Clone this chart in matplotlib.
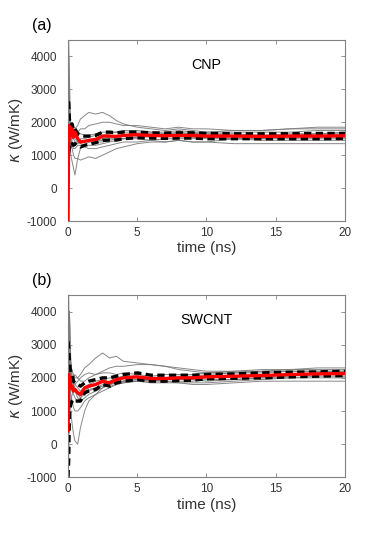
import matplotlib
matplotlib.use("Agg")
import matplotlib.pyplot as plt

plt.rcParams['font.family'] = ['Liberation Sans', 'DejaVu Sans']
plt.rcParams['mathtext.fontset'] = 'dejavusans'
plt.rcParams['axes.unicode_minus'] = False

# time grid (ns)
t = [0, 0.05, 0.1, 0.15, 0.2, 0.3, 0.4, 0.5, 0.7, 0.9, 1.2, 1.5, 2.0, 2.5, 3.0, 3.5, 4.0,
     5, 6, 7, 8, 9, 10, 12, 14, 16, 18, 20]

# ---------- panel (a) CNP ----------
cnp_runs = [
    [3000, 4500, 3500, 2500, 1800, 1500, 1600, 1800, 1900, 2100, 2200, 2300, 2250, 2300, 2200, 2050, 1950, 1850, 1800, 1750, 1800, 1750, 1700, 1750, 1750, 1800, 1850, 1850],
    [1000, 2500, 3000, 2000, 1600, 1500, 1700, 1600, 1700, 1800, 1800, 1900, 1950, 2000, 2000, 1950, 1900, 1900, 1850, 1800, 1850, 1800, 1800, 1750, 1750, 1800, 1800, 1800],
    [2000, 3000, 1500, 1000, 1300, 1200, 1000, 900, 900, 850, 900, 950, 900, 1000, 1100, 1200, 1250, 1350, 1400, 1400, 1450, 1400, 1400, 1500, 1500, 1550, 1550, 1550],
    [-1000, 4000, 2000, 1500, 1000, 800, 600, 400, 900, 1200, 1300, 1400, 1400, 1400, 1450, 1500, 1500, 1500, 1450, 1400, 1450, 1400, 1400, 1350, 1350, 1350, 1350, 1350],
    [4500, 3000, 2000, 1200, 1400, 1500, 1600, 1500, 1400, 1500, 1500, 1550, 1600, 1600, 1650, 1700, 1750, 1750, 1700, 1700, 1750, 1700, 1650, 1650, 1600, 1650, 1650, 1700],
    [0, -1000, 1500, 2000, 1700, 1400, 1300, 1300, 1350, 1400, 1450, 1400, 1450, 1500, 1550, 1600, 1600, 1650, 1650, 1600, 1600, 1550, 1500, 1500, 1450, 1450, 1450, 1450],
    [2500, 1000, 2500, 1800, 1900, 1700, 1500, 1400, 1400, 1350, 1300, 1300, 1300, 1350, 1400, 1450, 1500, 1550, 1600, 1650, 1700, 1650, 1650, 1600, 1600, 1600, 1600, 1600],
    [1500, 3500, 1000, 1500, 1800, 1700, 1500, 1600, 1500, 1450, 1400, 1450, 1450, 1450, 1500, 1500, 1500, 1550, 1550, 1600, 1550, 1550, 1550, 1500, 1500, 1500, 1500, 1500],
    [-500, 2000, 2500, 1800, 1500, 1300, 1200, 1200, 1300, 1300, 1250, 1200, 1200, 1250, 1300, 1350, 1400, 1400, 1450, 1500, 1500, 1500, 1550, 1600, 1600, 1600, 1650, 1650],
    [1000, 1500, 2000, 1600, 1700, 1800, 1700, 1700, 1700, 1650, 1600, 1600, 1650, 1700, 1700, 1700, 1700, 1700, 1700, 1650, 1650, 1650, 1700, 1700, 1700, 1700, 1750, 1750],
]
cnp_mean = [-1000, 1900, 1500, 1850, 1600, 1800, 1550, 1700, 1500, 1400, 1420, 1450, 1480, 1580, 1580, 1570, 1600, 1620, 1600, 1590, 1600, 1600, 1580, 1580, 1570, 1580, 1580, 1590]
cnp_upper = [2600, 2600, 2100, 2000, 1900, 1950, 1750, 1800, 1650, 1600, 1580, 1580, 1600, 1700, 1700, 1680, 1700, 1700, 1680, 1670, 1680, 1680, 1660, 1650, 1650, 1650, 1660, 1660]
cnp_lower = [1100, 1100, 1200, 1300, 1250, 1350, 1300, 1350, 1300, 1250, 1300, 1330, 1380, 1450, 1460, 1460, 1500, 1530, 1520, 1510, 1520, 1520, 1500, 1500, 1500, 1500, 1500, 1510]

# ---------- panel (b) SWCNT ----------
swcnt_runs = [
    [2000, 4500, 3000, 2500, 2000, 1800, 2000, 2100, 2000, 2100, 2300, 2400, 2600, 2750, 2600, 2650, 2500, 2450, 2400, 2350, 2300, 2250, 2200, 2200, 2250, 2250, 2250, 2250],
    [1000, 3500, 4000, 3000, 2500, 2000, 1900, 1800, 1900, 2000, 2100, 2150, 2100, 2200, 2300, 2350, 2350, 2400, 2400, 2350, 2250, 2200, 2150, 2200, 2200, 2250, 2300, 2300],
    [3000, 3800, 2000, 1500, 1000, 600, 300, 100, 0, 500, 1000, 1300, 1500, 1600, 1700, 1800, 1850, 1900, 1950, 1950, 2000, 1950, 1900, 1950, 2000, 2050, 2100, 2100],
    [-1000, 1000, 2500, 2000, 1500, 1300, 1100, 1000, 1000, 1100, 1300, 1400, 1500, 1700, 1800, 1850, 1900, 1900, 1850, 1850, 1850, 1800, 1800, 1850, 1900, 1900, 1900, 1900],
    [0, -500, 1000, 2000, 2200, 2000, 1900, 1800, 1700, 1600, 1700, 1800, 1900, 1950, 2000, 2000, 2050, 2050, 2000, 2000, 2050, 2050, 2100, 2150, 2150, 2200, 2200, 2200],
    [4000, 3000, 2500, 2200, 1800, 1600, 1500, 1400, 1300, 1400, 1600, 1700, 1800, 1850, 1900, 2000, 2000, 2050, 2000, 1950, 1950, 2000, 2050, 2050, 2050, 2100, 2100, 2150],
    [1500, 2500, 2000, 1800, 1600, 1700, 1800, 1700, 1600, 1500, 1600, 1650, 1700, 1800, 1850, 1900, 1900, 1950, 1900, 1900, 1900, 1900, 1950, 1950, 2000, 2000, 2050, 2050],
    [500, 3000, 3500, 2800, 2400, 2200, 2100, 2000, 2000, 1900, 1900, 2000, 2100, 2150, 2150, 2100, 2150, 2100, 2050, 2100, 2100, 2100, 2150, 2150, 2200, 2200, 2200, 2200],
    [2500, 2000, 1500, 1200, 1300, 1500, 1600, 1600, 1500, 1400, 1500, 1600, 1700, 1750, 1750, 1800, 1850, 1900, 1900, 1950, 1950, 2000, 2050, 2050, 2100, 2100, 2150, 2150],
    [-500, 1500, 4000, 3500, 2500, 2000, 1800, 1600, 1400, 1300, 1400, 1500, 1600, 1700, 1800, 1850, 1900, 1950, 1950, 1900, 1850, 1850, 1850, 1900, 1950, 2000, 2000, 2000],
]
swcnt_mean = [400, 2100, 1800, 2000, 1700, 1750, 1600, 1650, 1550, 1500, 1700, 1750, 1800, 1900, 1850, 1950, 2000, 2030, 1980, 1980, 2000, 2000, 2030, 2050, 2070, 2100, 2120, 2130]
swcnt_upper = [3100, 2900, 2500, 2300, 2200, 2100, 1900, 1850, 1800, 1750, 1850, 1900, 1950, 2000, 2000, 2050, 2100, 2150, 2080, 2080, 2080, 2080, 2100, 2120, 2150, 2170, 2180, 2200]
swcnt_lower = [-1000, -500, 800, 1100, 1200, 1300, 1350, 1300, 1300, 1300, 1550, 1600, 1650, 1800, 1750, 1850, 1900, 1950, 1900, 1900, 1920, 1930, 1970, 1990, 2000, 2030, 2050, 2070]

panels = [
    ("(a)", "CNP", cnp_runs, cnp_mean, cnp_upper, cnp_lower),
    ("(b)", "SWCNT", swcnt_runs, swcnt_mean, swcnt_upper, swcnt_lower),
]
xticks = [0, 5, 10, 15, 20]
yticks = [-1000, 0, 1000, 2000, 3000, 4000]

fig = plt.figure(figsize=(3.82, 5.38), dpi=100)
axes_pos = [[0.178, 0.5892, 0.725, 0.3365], [0.178, 0.1128, 0.725, 0.3389]]
txt_col = '#333333'
spine_col = '#808080'

for pos, (tag, name, runs, mean, upper, lower) in zip(axes_pos, panels):
    ax = fig.add_axes(pos)
    for r in runs:
        ax.plot(t, r, color='#7a7a7a', lw=0.7, alpha=0.9, zorder=1)
    ax.plot(t, upper, color='black', lw=2.4, ls=(0, (2.2, 1.3)), zorder=2)
    ax.plot(t, lower, color='black', lw=2.4, ls=(0, (2.2, 1.3)), zorder=2)
    ax.plot(t, mean, color='red', lw=2.4, zorder=3)
    ax.set_xlim(0, 20)
    ax.set_ylim(-1000, 4500)
    ax.set_xticks(xticks)
    ax.set_yticks(yticks)
    ax.tick_params(direction='in', length=3, width=0.6, color=spine_col,
                   labelsize=8.5, labelcolor=txt_col, top=True, right=True)
    ax.tick_params(axis='y', pad=8)
    ax.tick_params(axis='x', pad=4)
    for s in ax.spines.values():
        s.set_color(spine_col)
        s.set_linewidth(0.8)
    ax.set_xlabel('time (ns)', fontsize=11, color=txt_col, labelpad=2)
    ax.set_ylabel(r'$\kappa$ (W/mK)', fontsize=11, color=txt_col, labelpad=1)
    ax.text(10, 3750, name, ha='center', va='center', fontsize=10.3, color='black')
    ax.text(-0.13, 1.08, tag, transform=ax.transAxes, fontsize=11.5, color='black',
            ha='left', va='center')

fig.savefig('out.png', dpi=100)
